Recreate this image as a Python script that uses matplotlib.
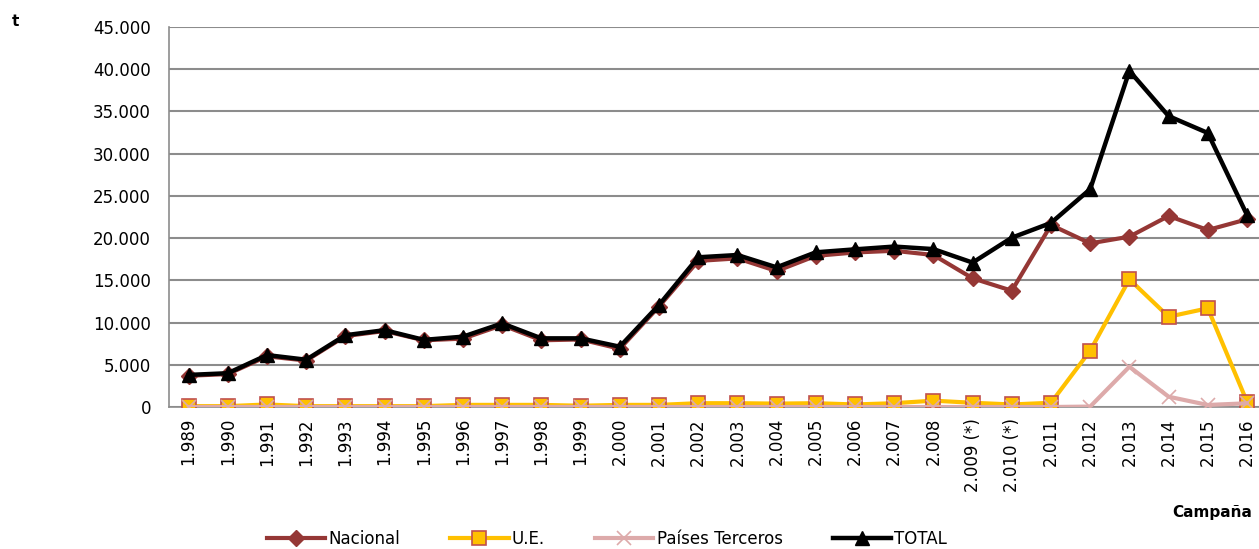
import matplotlib
matplotlib.use("Agg")
import matplotlib.pyplot as plt
from matplotlib.ticker import FuncFormatter

campanas = ["1.989", "1.990", "1.991", "1.992", "1.993", "1.994", "1.995", "1.996",
            "1.997", "1.998", "1.999", "2.000", "2.001", "2.002", "2.003", "2.004",
            "2.005", "2.006", "2.007", "2.008", "2.009 (*)", "2.010 (*)", "2.011",
            "2.012", "2.013", "2.014", "2.015", "2.016"]

nacional = [3700, 3900, 6000, 5500, 8400, 9000, 7900, 8100, 9700, 7900, 8000, 6900,
            11900, 17300, 17600, 16100, 17900, 18300, 18500, 18000, 15240, 13770,
            21550, 19380, 20170, 22620, 20960, 22230]
ue = [100, 100, 300, 100, 100, 100, 100, 250, 250, 250, 150, 250, 250, 450, 450, 400,
      450, 300, 450, 750, 500, 300, 500, 6670, 15120, 10690, 11690, 630]
terceros = [0, 0, 0, 0, 0, 0, 0, 0, 0, 0, 0, 0, 0, 0, 0, 0, 0, 0, 0, 0, 0, 0, 0,
            50, 4770, 1220, 240, 440]
total = [3800, 4000, 6150, 5600, 8500, 9100, 7950, 8330, 9900, 8130, 8130, 7140,
         12080, 17730, 18000, 16540, 18320, 18670, 19000, 18700, 17100, 20050,
         21800, 25800, 39800, 34450, 32450, 22740]

plt.rcParams['font.family'] = ['DejaVu Sans']

fig = plt.figure(figsize=(12.59, 5.49), dpi=100)
ax = fig.add_axes([169/1259, 1-407/549, 28*39.2/1259, 380/549])

x = list(range(len(campanas)))
ax.plot(x, nacional, color='#953735', lw=3, marker='D', ms=8,
        mfc='#953735', mec='#953735', label='Nacional', zorder=3)
ax.plot(x, ue, color='#FFC000', lw=3, marker='s', ms=10,
        mfc='#FFC000', mec='#C0504D', mew=1.2, label='U.E.', zorder=4)
ax.plot(x, terceros, color='#DDAAAA', lw=3, marker='x', ms=10, mew=1.2,
        mec='#DDAAAA', label='Países Terceros', zorder=5)
ax.plot(x, total, color='black', lw=3.2, marker='^', ms=10,
        mfc='black', mec='black', label='TOTAL', zorder=6)

ax.set_xlim(-0.5, 27.5)
ax.set_ylim(0, 45000)
ax.set_yticks(range(0, 45001, 5000))
ax.yaxis.set_major_formatter(FuncFormatter(lambda v, p: f"{int(v):,}".replace(",", ".")))
ax.set_xticks(x)
ax.set_xticklabels(campanas, rotation=90, fontsize=12)
ax.tick_params(axis='y', labelsize=12, length=0, pad=13)
ax.tick_params(axis='x', length=0, pad=8)
ax.grid(axis='y', color='#8C8C8C', lw=1.5)
ax.set_axisbelow(True)
for s in ['top', 'right']:
    ax.spines[s].set_visible(False)
ax.spines['left'].set_color('#8C8C8C')
ax.spines['bottom'].set_color('#8C8C8C')
ax.spines['left'].set_linewidth(1.2)
ax.spines['bottom'].set_linewidth(1.2)

fig.text(15/1259, 1-22/549, 't', fontsize=11, fontweight='bold', ha='center', va='center')
fig.text(1212/1259, 1-513/549, 'Campaña', fontsize=11, fontweight='bold', ha='center', va='center')

fig.legend(loc='center', bbox_to_anchor=(607/1259, 1-539/549), ncol=4, frameon=False,
           fontsize=12, handlelength=3.5, columnspacing=3.0, handletextpad=0.2)

fig.savefig('out.png', dpi=100)
